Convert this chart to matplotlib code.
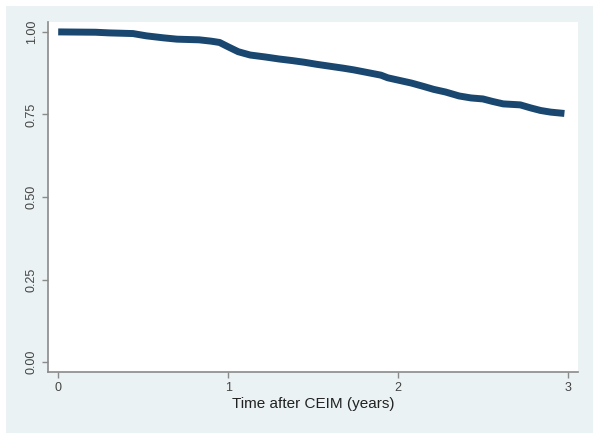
import matplotlib
matplotlib.use("Agg")
import matplotlib.pyplot as plt
from matplotlib.patches import Rectangle

# survival estimate
tempo = [0.0, 0.22, 0.30, 0.44, 0.52, 0.62, 0.70, 0.83, 0.90, 0.95, 1.00, 1.06, 1.13, 1.22,
         1.30, 1.38, 1.45, 1.52, 1.60, 1.68, 1.74, 1.82, 1.90, 1.94, 2.01, 2.08, 2.15, 2.21,
         2.28, 2.36, 2.43, 2.50, 2.56, 2.62, 2.72, 2.78, 2.84, 2.90, 2.98]
sobrevida = [1.0, 0.999, 0.997, 0.995, 0.988, 0.982, 0.978, 0.976, 0.972, 0.968, 0.955,
             0.940, 0.930, 0.924, 0.918, 0.913, 0.908, 0.902, 0.896, 0.890, 0.885, 0.877,
             0.869, 0.861, 0.853, 0.845, 0.835, 0.826, 0.818, 0.806, 0.800, 0.797, 0.789,
             0.782, 0.779, 0.770, 0.762, 0.757, 0.753]

plt.rcParams['font.family'] = ['Liberation Sans', 'DejaVu Sans']

fig = plt.figure(figsize=(6, 4.42), dpi=100, facecolor='white')
fig.patches.append(Rectangle((6 / 600, 9 / 442), 587 / 600, 427 / 442,
                             transform=fig.transFigure, facecolor='#EAF2F3',
                             edgecolor='none', zorder=-10))

ax = fig.add_axes([48 / 600, 70 / 442, 530 / 600, 350 / 442])
ax.set_facecolor('white')
ax.plot(tempo, sobrevida, color='#1A476F', lw=5, solid_capstyle='butt',
        solid_joinstyle='round')

ax.set_xlim(-0.06, 3.06)
ax.set_ylim(-0.03, 1.03)
ax.set_xticks([0, 1, 2, 3])
ax.set_yticks([0, 0.25, 0.5, 0.75, 1.0])
ax.set_yticklabels(['0.00', '0.25', '0.50', '0.75', '1.00'], rotation=90, va='center')

for lado in ['top', 'right']:
    ax.spines[lado].set_visible(False)
for lado in ['left', 'bottom']:
    ax.spines[lado].set_color('#8a8a8a')
    ax.spines[lado].set_linewidth(1.2)
ax.tick_params(colors='#8a8a8a', labelcolor='#444444', length=4, width=1, labelsize=9)
ax.set_xlabel('Time after CEIM (years)', fontsize=11, color='#222222', labelpad=2)

plt.savefig('out.png', dpi=100, facecolor=fig.get_facecolor())
